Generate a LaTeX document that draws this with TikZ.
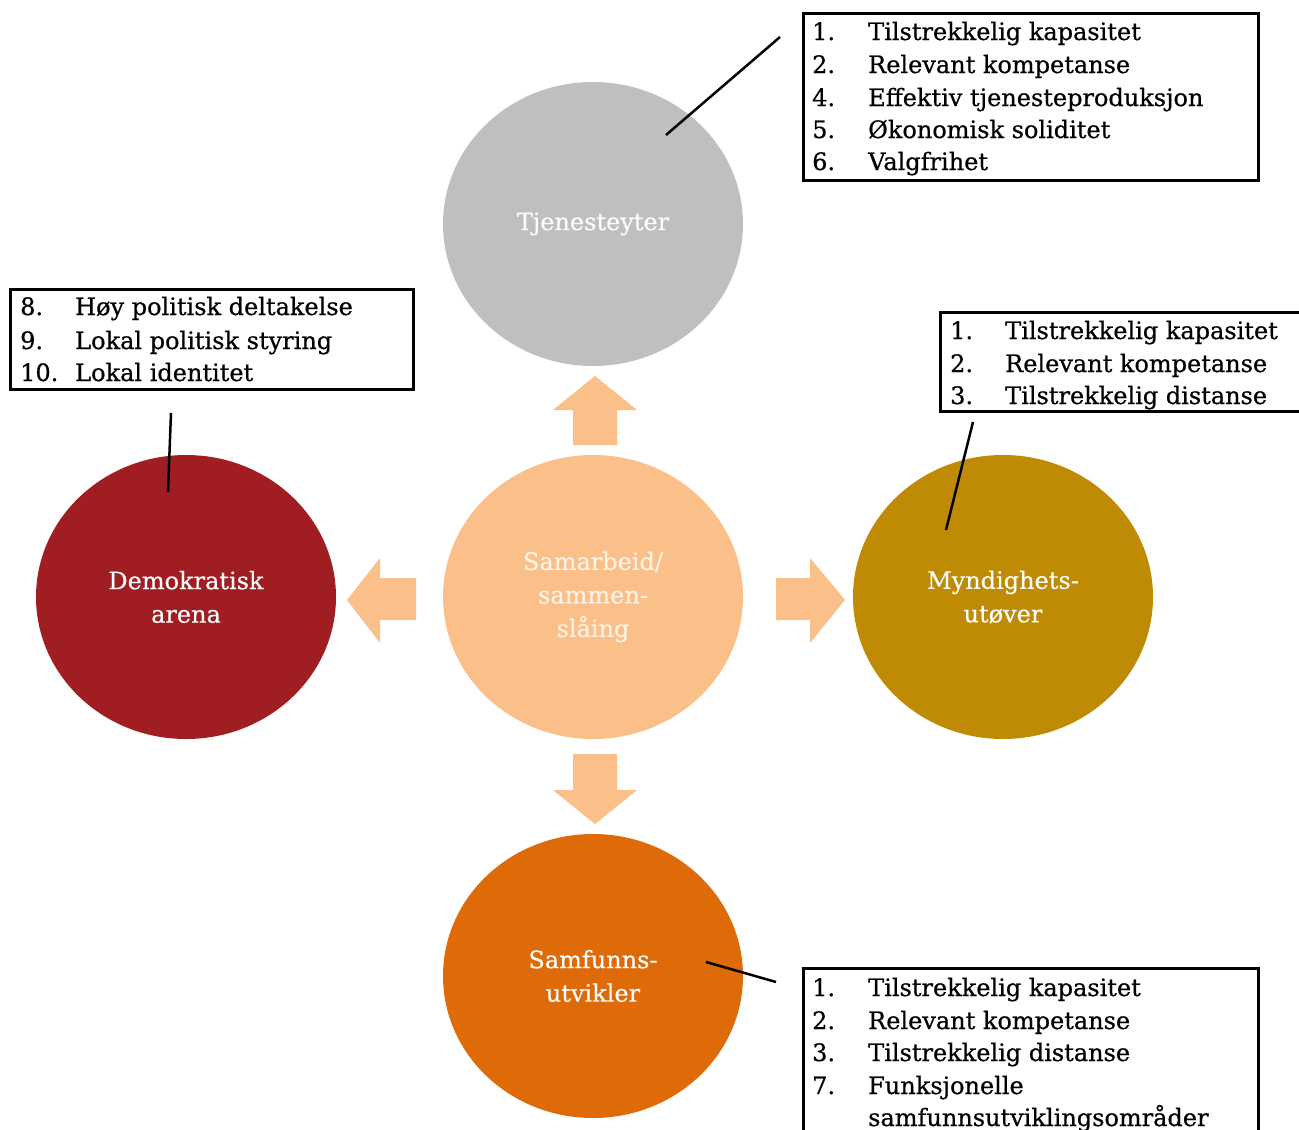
\documentclass[tikz,border=0pt]{standalone}
\usepackage{fontspec}
\setmainfont{DejaVu Serif}
\newfontfamily\boxfont[FakeBold=0.6]{DejaVu Serif}
\newfontfamily\circfont[FakeBold=0.3]{DejaVu Serif}
\usetikzlibrary{shapes.geometric}
\definecolor{cgray}{HTML}{BFBFBF}
\definecolor{cred}{HTML}{A01D21}
\definecolor{cgold}{HTML}{BF8A04}
\definecolor{corange}{HTML}{DE6A08}
\definecolor{clight}{HTML}{FBC08A}
\definecolor{ctext}{HTML}{FFF3E6}
\begin{document}
\begin{tikzpicture}[x=1pt,y=-1pt,
  circ/.style={ellipse, minimum width=300pt, minimum height=284pt, inner sep=0pt, align=center,
    text=white, font=\circfont\fontsize{24}{33.5}\selectfont},
  infobox/.style={draw=black, line width=3pt, fill=white},
  btxt/.style={anchor=base west, inner sep=0pt, font=\boxfont\fontsize{24}{33}\selectfont},
  lead/.style={draw=black, line width=2.5pt},
  bigarrow/.style={fill=clight}]
\useasboundingbox (0,0) rectangle (1299,1130);
\clip (0,0) rectangle (1299,1130);
\fill[white] (0,0) rectangle (1299,1130);

% circles
\node[circ, fill=clight, text=ctext] (c) at (593,597) {Samarbeid/\\sammen-\\slåing};
\node[circ, fill=cgray, text=white!95!cgray] (t) at (593,224) {Tjenesteyter};
\node[circ, fill=cred] (d) at (186,597) {Demokratisk\\arena};
\node[circ, fill=cgold] (m) at (1003,597) {Myndighets-\\utøver};
\node[circ, fill=corange] (s) at (593,976) {Samfunns-\\utvikler};

% arrows
\fill[bigarrow] (573,445) -- (573,410) -- (553,410) -- (595,376) -- (637,410) -- (617,410) -- (617,445) -- cycle;
\fill[bigarrow] (573,754) -- (573,790) -- (553,790) -- (595,824) -- (637,790) -- (617,790) -- (617,754) -- cycle;
\fill[bigarrow] (416,578) -- (380,578) -- (380,558) -- (347,600) -- (380,643) -- (380,620) -- (416,620) -- cycle;
\fill[bigarrow] (776,578) -- (810,578) -- (810,558) -- (845,600) -- (810,643) -- (810,620) -- (776,620) -- cycle;

% boxes
\draw[infobox] (803,13) rectangle (1258,180);
\draw[infobox] (10,289) rectangle (413,389);
\draw[infobox] (940,312) rectangle (1310,411);
\draw[infobox] (803,968) rectangle (1258,1140);

% top box text
\node[btxt] (t1n) at (812,40) {1.};
\node[btxt] (t1) at (868,40) {Tilstrekkelig kapasitet};
\node[btxt] (t2n) at (812,73) {2.};
\node[btxt] (t2) at (868,73) {Relevant kompetanse};
\node[btxt] (t3n) at (812,106) {4.};
\node[btxt] (t3) at (868,106) {Effektiv tjenesteproduksjon};
\node[btxt] (t4n) at (812,138) {5.};
\node[btxt] (t4) at (868,138) {Økonomisk soliditet};
\node[btxt] (t5n) at (812,170) {6.};
\node[btxt] (t5) at (868,170) {Valgfrihet};

% left box text
\node[btxt] (l1n) at (20,315) {8.};
\node[btxt] (l1) at (75,315) {Høy politisk deltakelse};
\node[btxt] (l2n) at (20,349) {9.};
\node[btxt] (l2) at (75,349) {Lokal politisk styring};
\node[btxt] (l3n) at (20,381) {10.};
\node[btxt] (l3) at (75,381) {Lokal identitet};

% right box text
\node[btxt] (r1n) at (950,339) {1.};
\node[btxt] (r1) at (1005,339) {Tilstrekkelig kapasitet};
\node[btxt] (r2n) at (950,372) {2.};
\node[btxt] (r2) at (1005,372) {Relevant kompetanse};
\node[btxt] (r3n) at (950,404) {3.};
\node[btxt] (r3) at (1005,404) {Tilstrekkelig distanse};

% bottom box text
\node[btxt] (b1n) at (812,996) {1.};
\node[btxt] (b1) at (868,996) {Tilstrekkelig kapasitet};
\node[btxt] (b2n) at (812,1029) {2.};
\node[btxt] (b2) at (868,1029) {Relevant kompetanse};
\node[btxt] (b3n) at (812,1061) {3.};
\node[btxt] (b3) at (868,1061) {Tilstrekkelig distanse};
\node[btxt] (b4n) at (812,1094) {7.};
\node[btxt] (b4) at (868,1094) {Funksjonelle};
\node[btxt] (b5) at (868,1126) {samfunnsutviklingsområder};

% leader lines
\coordinate (ta) at (780,37);
\coordinate (tb) at (666,135);
\coordinate (la) at (171,413);
\coordinate (lb) at (168,492);
\coordinate (ra) at (973,422);
\coordinate (rb) at (946,530);
\coordinate (sa) at (706,962);
\coordinate (sb) at (776,982);
\draw[lead] (ta) -- (tb);
\draw[lead] (la) -- (lb);
\draw[lead] (ra) -- (rb);
\draw[lead] (sa) -- (sb);
\end{tikzpicture}
\end{document}
